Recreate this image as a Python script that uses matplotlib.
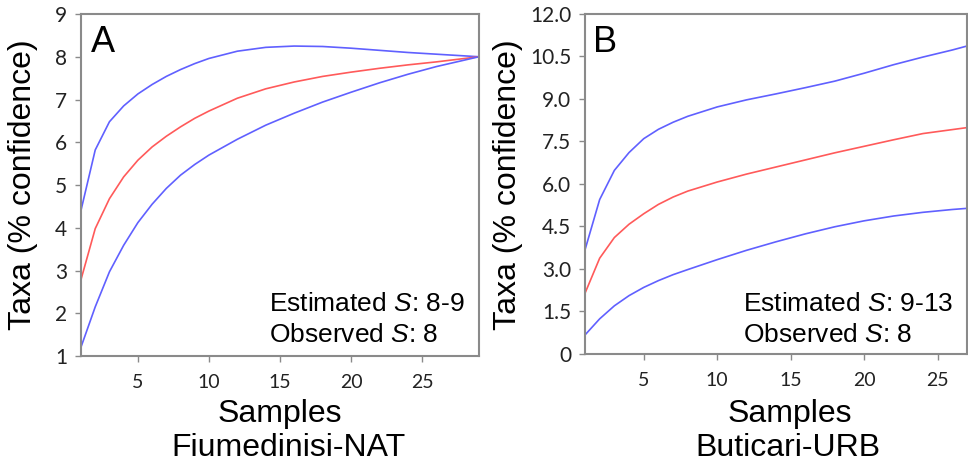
import matplotlib.pyplot as plt
from matplotlib.ticker import FixedLocator

plt.rcParams['mathtext.fontset'] = 'custom'
plt.rcParams['mathtext.it'] = 'Liberation Sans:italic'
plt.rcParams['mathtext.rm'] = 'Liberation Sans'

# panel A: Fiumedinisi-NAT
xa = [1, 2, 3, 4, 5, 6, 7, 8, 9, 10, 12, 14, 16, 18, 20, 22, 24, 26, 29]
a_upper = [4.41, 5.82, 6.48, 6.85, 7.13, 7.35, 7.54, 7.70, 7.84, 7.96,
           8.13, 8.22, 8.25, 8.24, 8.20, 8.15, 8.10, 8.06, 8.0]
a_mean = [2.79, 3.98, 4.68, 5.19, 5.58, 5.89, 6.14, 6.36, 6.56, 6.73,
          7.03, 7.25, 7.41, 7.54, 7.64, 7.73, 7.81, 7.88, 8.0]
a_lower = [1.21, 2.15, 2.97, 3.59, 4.12, 4.55, 4.92, 5.23, 5.48, 5.70,
           6.07, 6.40, 6.68, 6.94, 7.17, 7.39, 7.59, 7.77, 8.0]

# panel B: Buticari-URB
xb = [1, 2, 3, 4, 5, 6, 7, 8, 10, 12, 14, 16, 18, 20, 22, 24, 26, 27]
b_upper = [3.67, 5.45, 6.48, 7.11, 7.60, 7.93, 8.18, 8.39, 8.72,
           8.97, 9.18, 9.40, 9.63, 9.91, 10.21, 10.48, 10.73, 10.87]
b_mean = [2.14, 3.38, 4.11, 4.58, 4.95, 5.28, 5.54, 5.75, 6.07,
          6.35, 6.60, 6.85, 7.10, 7.33, 7.56, 7.78, 7.92, 7.99]
b_lower = [0.67, 1.24, 1.70, 2.06, 2.35, 2.59, 2.80, 2.98, 3.33,
           3.66, 3.96, 4.24, 4.49, 4.70, 4.87, 5.00, 5.10, 5.14]

a_yticks = [1, 2, 3, 4, 5, 6, 7, 8, 9]
b_yticks = [0, 1.5, 3.0, 4.5, 6.0, 7.5, 9.0, 10.5, 12.0]
b_ylabels = ['0', '1.5', '3.0', '4.5', '6.0', '7.5', '9.0', '10.5', '12.0']
xticks = [5, 10, 15, 20, 25]

blue = '#6060ff'
red = '#ff5a5a'
label_font = 'Liberation Sans'
tick_font = 'Lato'

fig = plt.figure(figsize=(9.68, 4.62), dpi=100)
ax1 = fig.add_axes([0.0837, 0.2294, 0.4111, 0.7403])
ax2 = fig.add_axes([0.6043, 0.2338, 0.3947, 0.7359])


def style(ax):
    for s in ax.spines.values():
        s.set_color('#8a8a8a')
        s.set_linewidth(1.5)
    ax.tick_params(axis='both', length=4, width=1, color='#8a8a8a',
                   direction='out')
    ax.tick_params(axis='y', pad=6, labelsize=15)
    ax.tick_params(axis='x', pad=9, labelsize=14)
    for lab in ax.get_xticklabels() + ax.get_yticklabels():
        lab.set_fontfamily(tick_font)
        lab.set_color('#222222')


for y, c in [(a_upper, blue), (a_mean, red), (a_lower, blue)]:
    ax1.plot(xa, y, color=c, lw=1.2)
ax1.set_xlim(1, 29)
ax1.set_ylim(1, 9)
ax1.xaxis.set_major_locator(FixedLocator(xticks))
ax1.set_yticks(a_yticks)
style(ax1)

for y, c in [(b_upper, blue), (b_mean, red), (b_lower, blue)]:
    ax2.plot(xb, y, color=c, lw=1.2)
ax2.set_xlim(1, 27)
ax2.set_ylim(0, 12)
ax2.xaxis.set_major_locator(FixedLocator(xticks))
ax2.set_yticks(b_yticks)
ax2.set_yticklabels(b_ylabels)
style(ax2)

# panel letters
fig.text(91 / 968, 1 - 52 / 462, 'A', fontsize=26, family=label_font,
         va='baseline', ha='left')
fig.text(593 / 968, 1 - 52 / 462, 'B', fontsize=26, family=label_font,
         va='baseline', ha='left')

# y labels
fig.text(23 / 968, 1 - 185 / 462, 'Taxa (% confidence)', rotation=90,
         fontsize=23, family=label_font, ha='center', va='center')
fig.text(508 / 968, 1 - 185 / 462, 'Taxa (% confidence)', rotation=90,
         fontsize=23, family=label_font, ha='center', va='center')

# x labels
fig.text(280 / 968, 1 - 422 / 462, 'Samples', fontsize=23,
         family=label_font, ha='center', va='baseline')
fig.text(289 / 968, 1 - 456 / 462, 'Fiumedinisi-NAT', fontsize=23,
         family=label_font, ha='center', va='baseline')
fig.text(790 / 968, 1 - 422 / 462, 'Samples', fontsize=23,
         family=label_font, ha='center', va='baseline')
fig.text(788 / 968, 1 - 456 / 462, 'Buticari-URB', fontsize=23,
         family=label_font, ha='center', va='baseline')

# estimate annotations
fig.text(269 / 968, 1 - 311 / 462, 'Estimated $\\mathit{S}$: 8-9', fontsize=19,
         family=label_font, ha='left', va='baseline')
fig.text(269 / 968, 1 - 342 / 462, 'Observed $\\mathit{S}$: 8', fontsize=19,
         family=label_font, ha='left', va='baseline')
fig.text(743 / 968, 1 - 311 / 462, 'Estimated $\\mathit{S}$: 9-13', fontsize=19,
         family=label_font, ha='left', va='baseline')
fig.text(743 / 968, 1 - 342 / 462, 'Observed $\\mathit{S}$: 8', fontsize=19,
         family=label_font, ha='left', va='baseline')

fig.savefig('out.png', dpi=100)
